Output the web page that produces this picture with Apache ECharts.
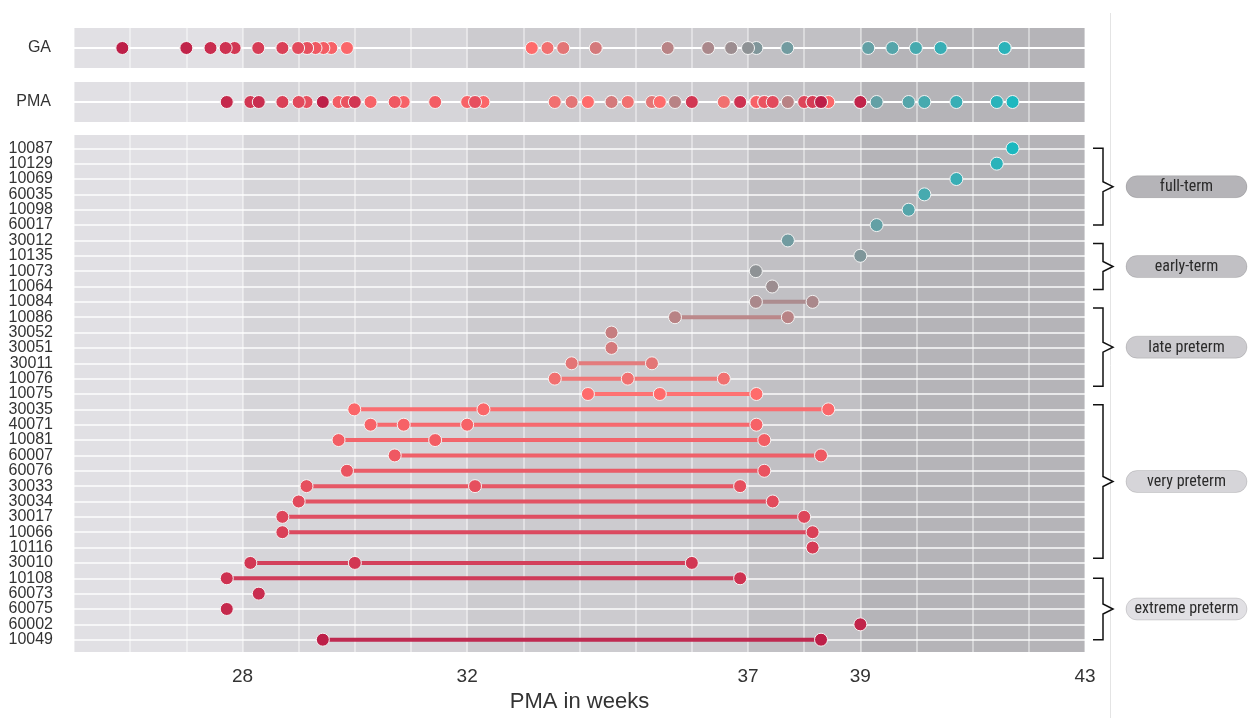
<!DOCTYPE html>
<html>
<head>
<meta charset="utf-8">
<script src="https://cdn.jsdelivr.net/npm/echarts@6/dist/echarts.min.js"></script>
<style>
html,body{margin:0;padding:0;background:#fff;}
#chart{width:1250px;height:718px;}
</style>
</head>
<body>
<div id="chart"></div>
<script>
// ---------- data ----------
const xTickLabels = [28, 32, 37, 39, 43];
const bandEdges = [25, 28, 32, 37, 39, 43];
const subjects = ['10087','10129','10069','60035','10098','60017','30012','10135','10073','10064','10084','10086','30052','30051','30011','10076','10075','30035','40071','10081','60007','60076','30033','30034','30017','10066','10116','30010','10108','60073','60075','60002','10049'];
const gaWeeks = [41.57,41.57,40.43,39.99,39.57,39.14,37.70,37.15,37.00,36.70,36.29,35.57,34.29,34.29,33.71,33.43,33.15,29.86,29.58,29.44,29.30,29.15,29.15,28.99,28.71,28.71,28.28,27.86,27.70,27.43,27.00,27.00,25.86];
const pmaScans = [
  [41.71],[41.43],[40.71],[40.14],[39.86],[39.29],[37.71],[39.00],[37.14],[37.43],
  [37.14,38.15],[35.70,37.71],[34.57],[34.57],[33.86,35.29],[33.56,34.86,36.57],[34.15,35.43,37.15],
  [29.99,32.29,38.43],[30.28,30.87,32.00,37.15],[29.71,31.43,37.29],[30.71,38.30],[29.86,37.29],
  [29.14,32.14,36.86],[29.00,37.44],[28.71,38.00],[28.71,38.15],[38.15],[28.14,30.00,36.00],
  [27.72,36.86],[28.29],[27.72],[39.00],[29.43,38.30]
];
const groupNames = ['full-term','early-term','late preterm','very preterm','extreme preterm'];
const groupStart = [0, 6.2, 10.4, 16.7, 28];
const groupEnd = [5, 9.2, 15.5, 26.7, 32];

// ---------- styles ----------
const bandColors = ['#e1e0e4','#d6d5d9','#cccbcf','#c1c0c4','#b5b4b8'];
const pillColors = ['#b5b4b8','#c1c0c4','#cccbcf','#d6d5d9','#e1e0e4'];
const rankColors = ['#1cb8bf','#ff6b6b','#bd1f48'];
const txt = '#333';
const sans = "'Liberation Sans', Arial, sans-serif";
const cond = "'Roboto Condensed', 'Liberation Sans Narrow', 'DejaVu Sans Condensed', Roboto, sans-serif";

// ---------- derived series data ----------
const gaData = gaWeeks.map((g, i) => [g, 0, i]);
const pmaData = [];
const mainPts = [];
const mainLines = [];
pmaScans.forEach((arr, i) => {
  arr.forEach(v => { pmaData.push([v, 0, i]); mainPts.push([v, i, i]); });
  if (arr.length > 1) mainLines.push([Math.min(...arr), i, i, Math.max(...arr)]);
});
const bandData = bandEdges.slice(0, -1).map((e, i) => [e, bandEdges[i + 1]]);

const chart = echarts.init(document.getElementById('chart'));
const L = 74, R = 1250 - 1085;
const vSplit = { show: true, lineStyle: { color: 'rgba(255,255,255,0.55)', width: 1.5 } };

function xAx(gi, showLabel) {
  return {
    type: 'value', gridIndex: gi, min: 25, max: 43, interval: 1,
    axisLine: { show: false }, axisTick: { show: false },
    splitLine: gi === 3 ? { show: false } : vSplit,
    axisLabel: showLabel ? {
      show: true, margin: 15, fontSize: 19, color: txt, fontFamily: sans,
      formatter: v => (xTickLabels.indexOf(v) >= 0 ? String(v) : '')
    } : { show: false },
    name: showLabel ? 'PMA in weeks' : '',
    nameLocation: 'middle', nameGap: 38,
    nameTextStyle: { fontSize: 22, color: txt, fontFamily: sans }
  };
}
function panelY(gi, label) {
  return {
    type: 'value', gridIndex: gi, min: -1, max: 1, interval: 1,
    axisLine: { show: false }, axisTick: { show: false },
    splitLine: { show: true, lineStyle: { color: '#ffffff', width: 2 } },
    axisLabel: { margin: 23, fontSize: 16, color: txt, fontFamily: sans,
      formatter: v => (v === 0 ? label : '') }
  };
}
function bandSeries(gi) {
  return {
    type: 'custom', xAxisIndex: gi, yAxisIndex: gi, z: -1, silent: true,
    data: bandData,
    renderItem: (params, api) => {
      const cs = params.coordSys;
      const x0 = api.coord([api.value(0), 0])[0];
      const x1 = api.coord([api.value(1), 0])[0];
      return { type: 'rect', shape: { x: x0, y: cs.y, width: x1 - x0, height: cs.height },
        style: { fill: bandColors[params.dataIndex] } };
    }
  };
}
const sym = { symbol: 'circle', symbolSize: 13, itemStyle: { borderColor: '#f4f4f4', borderWidth: 1, opacity: 1 } };

const option = {
  animation: false,
  backgroundColor: '#ffffff',
  grid: [
    { left: L, right: R, top: 27, height: 42 },
    { left: L, right: R, top: 81, height: 42 },
    { left: L, right: R, top: 135, height: 520 },
    { left: L, right: R, top: 148.3, height: 491.4 }
  ],
  xAxis: [xAx(0, false), xAx(1, false), xAx(2, true), xAx(3, false)],
  yAxis: [
    panelY(0, 'GA'),
    panelY(1, 'PMA'),
    { type: 'value', gridIndex: 2, min: 0, max: 1, show: false, splitLine: { show: false } },
    { type: 'category', gridIndex: 3, data: subjects, inverse: true, boundaryGap: false,
      axisLine: { show: false }, axisTick: { show: false },
      axisLabel: { interval: 0, margin: 21, fontSize: 16, color: txt, fontFamily: sans },
      splitLine: { show: true, interval: 0, lineStyle: { color: 'rgba(255,255,255,0.7)', width: 2 } } }
  ],
  visualMap: {
    type: 'continuous', show: false, min: 0, max: subjects.length - 1, dimension: 2,
    seriesIndex: [3, 4, 5, 6], inRange: { color: rankColors }
  },
  graphic: [{
    type: 'line', silent: true, z: -5,
    shape: { x1: 1110.5, y1: 13, x2: 1110.5, y2: 718 },
    style: { stroke: '#e4e4e4', lineWidth: 1 }
  }],
  series: [
    bandSeries(0), bandSeries(1), bandSeries(2),
    Object.assign({ type: 'scatter', xAxisIndex: 0, yAxisIndex: 0, data: gaData, z: 3 }, sym),
    Object.assign({ type: 'scatter', xAxisIndex: 1, yAxisIndex: 1, data: pmaData, z: 3 }, sym),
    {
      type: 'custom', xAxisIndex: 3, yAxisIndex: 3, z: 2, data: mainLines, silent: true,
      renderItem: (params, api) => {
        const p0 = api.coord([api.value(0), api.value(1)]);
        const p1 = api.coord([api.value(3), api.value(1)]);
        return { type: 'line', shape: { x1: p0[0], y1: p0[1], x2: p1[0], y2: p1[1] },
          style: { stroke: api.visual('color'), lineWidth: 4, opacity: 0.95 } };
      }
    },
    Object.assign({ type: 'scatter', xAxisIndex: 3, yAxisIndex: 3, data: mainPts, z: 3 }, sym),
    {
      type: 'custom', xAxisIndex: 3, yAxisIndex: 3, z: 4, clip: false, silent: true,
      data: groupNames.map((g, i) => [43, 0]),
      renderItem: (params, api) => {
        const i = params.dataIndex;
        const cs = params.coordSys;
        const r0 = api.coord([43, 0])[1];
        const step = api.coord([43, 1])[1] - r0;
        const yt = r0 + step * groupStart[i];
        const yb = r0 + step * groupEnd[i];
        const ym = (yt + yb) / 2;
        const xr = cs.x + cs.width;
        const xa = xr + 8, xv = xr + 18, xt = xr + 28;
        return {
          type: 'group',
          children: [
            { type: 'polyline', shape: { points: [[xa, yt], [xv, yt], [xv, ym - 5], [xt, ym], [xv, ym + 5], [xv, yb], [xa, yb]] },
              style: { stroke: '#111', lineWidth: 1.5, fill: null } },
            { type: 'rect', shape: { x: xr + 41, y: ym - 11, width: 121, height: 22, r: 11 },
              style: { fill: pillColors[i], stroke: 'rgba(0,0,0,0.12)', lineWidth: 1 } },
            { type: 'text', x: xr + 41 + 60.5, y: ym + 0.5,
              style: { text: groupNames[i], fill: '#2a2a2a', font: '400 16px ' + cond, align: 'center', verticalAlign: 'middle' } }
          ]
        };
      }
    }
  ]
};
chart.setOption(option);
</script>
</body>
</html>
